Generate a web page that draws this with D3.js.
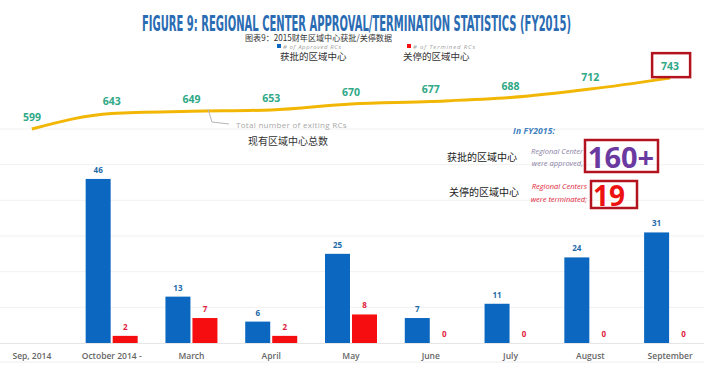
<!DOCTYPE html>
<html><head><meta charset="utf-8">
<script src="https://cdn.jsdelivr.net/npm/d3@7"></script>
<style>html,body{margin:0;padding:0;background:#fff;overflow:hidden}</style>
</head><body>
<svg id="c" width="704" height="375"></svg>
<script>
const categories = ["Sep, 2014","October 2014 -","March","April","May","June","July","August","September"];
const approved = [null,46,13,6,25,7,11,24,31];
const terminated = [null,2,7,2,8,0,0,0,0];
const totalRCs = [599,643,649,653,670,677,688,712,743];
const barTicks = [0,10,20,30,40,50,60];

const svg = d3.select("#c");
const W = 704, H = 375;
const cjk = "'Noto Sans CJK SC', sans-serif";
const sans = "'Open Sans','Noto Sans',sans-serif";

const x = d3.scaleBand().domain(categories).range([-8, 710]);
const inner = d3.scaleBand().domain(["a","t"]).range([-26, 26]).paddingInner(0.075);
const yBar = d3.scaleLinear().domain([0, 60]).range([343, 129]);
const yLine = d3.scaleLinear().domain([500, 800]).range([164, 58]);
const cx = c => x(c) + x.bandwidth()/2;

// gridlines
svg.append("g").selectAll("line").data(barTicks.slice(1)).join("line")
  .attr("x1", 0).attr("x2", W).attr("y1", d=>yBar(d)).attr("y2", d=>yBar(d))
  .attr("stroke", "#f1f1f1").attr("stroke-width", 1);

// axis
const ax = svg.append("g").attr("transform", `translate(0,${yBar(0)})`)
  .call(d3.axisBottom(x).tickSize(0).tickPadding(10));
ax.select(".domain").attr("stroke", "#e6e6e6");
ax.selectAll("text").attr("font-family", sans).attr("font-size", 8.5).attr("font-weight", 600).attr("fill", "#666");
svg.append("line").attr("x1",0).attr("x2",W).attr("y1",362).attr("y2",362).attr("stroke","#eeeeee");

// bars
const rows = categories.map((c,i)=>({c, a: approved[i], t: terminated[i]})).filter(d=>d.a!==null);
const bg = svg.append("g");
bg.selectAll("rect.a").data(rows).join("rect").attr("class","a")
  .attr("x", d=>cx(d.c)+inner("a")).attr("width", inner.bandwidth())
  .attr("y", d=>yBar(d.a)).attr("height", d=>yBar(0)-yBar(d.a)).attr("fill", "#0b67bf");
bg.selectAll("rect.t").data(rows.filter(d=>d.t>0)).join("rect").attr("class","t")
  .attr("x", d=>cx(d.c)+inner("t")).attr("width", inner.bandwidth())
  .attr("y", d=>yBar(d.t)).attr("height", d=>yBar(0)-yBar(d.t)).attr("fill", "#f50d10");
bg.selectAll("text.a").data(rows).join("text").attr("class","a")
  .attr("x", d=>cx(d.c)+inner("a")+inner.bandwidth()/2).attr("y", d=>yBar(d.a)-6)
  .attr("text-anchor","middle").attr("font-family",sans).attr("font-size",8).attr("font-weight",700)
  .attr("fill","#1e6aa8").text(d=>d.a);
bg.selectAll("text.t").data(rows).join("text").attr("class","t")
  .attr("x", d=>cx(d.c)+inner("t")+inner.bandwidth()/2).attr("y", d=>yBar(d.t)-6)
  .attr("text-anchor","middle").attr("font-family",sans).attr("font-size",8).attr("font-weight",700)
  .attr("fill","#e0203a").text(d=>d.t);

// line
const lineData = categories.map((c,i)=>({c, v: totalRCs[i]}));
svg.append("path").datum(lineData)
  .attr("d", d3.line().x(d=>cx(d.c)).y(d=>yLine(d.v)).curve(d3.curveMonotoneX))
  .attr("fill","none").attr("stroke","#f2b705").attr("stroke-width",3);
svg.append("g").selectAll("text").data(lineData).join("text")
  .attr("x", d=>cx(d.c)).attr("y", d=>yLine(d.v)-8).attr("text-anchor","middle")
  .attr("font-family",sans).attr("font-size",10.5).attr("font-weight",700).attr("fill","#2fa886")
  .text(d=>d.v);
// 743 box
const last = lineData[lineData.length-1];
svg.append("rect").attr("x", cx(last.c)-18).attr("y", yLine(last.v)-25).attr("width",38).attr("height",24)
  .attr("fill","none").attr("stroke","#b3121f").attr("stroke-width",2.5);

// callout
svg.append("path").attr("d","M208,109 L212,122 L229,124").attr("fill","none").attr("stroke","#b5b5b5").attr("stroke-width",1);
svg.append("text").attr("x",236).attr("y",128).attr("font-family",sans).attr("font-size",8).attr("fill","#a8a8a8").attr("letter-spacing",0.3).text("Total number of exiting RCs");
svg.append("text").attr("x",248).attr("y",145).attr("font-family",cjk).attr("font-size",10).attr("fill","#333").text("现有区域中心总数");

// title
svg.append("text").attr("x",142).attr("y",30.5)
  .attr("font-family","'Liberation Sans Narrow','DejaVu Sans Condensed',sans-serif").attr("font-weight",700)
  .attr("font-size",22).attr("fill","#2a6cb3").attr("textLength",429).attr("lengthAdjust","spacingAndGlyphs")
  .text("FIGURE 9: REGIONAL CENTER APPROVAL/TERMINATION STATISTICS (FY2015)");
svg.append("text").attr("x",245).attr("y",41).attr("font-family",cjk)
  .attr("font-size",8.5).attr("fill","#333").attr("textLength",147).attr("lengthAdjust","spacingAndGlyphs")
  .text("图表9：2015财年区域中心获批/关停数据");

// legend
const lg = svg.append("g");
lg.append("rect").attr("x",277).attr("y",44).attr("width",4).attr("height",4).attr("fill","#0b67bf");
lg.append("text").attr("x",283).attr("y",48.5).attr("font-family",sans).attr("font-size",6).attr("font-style","italic").attr("fill","#a0a0a0").attr("textLength",58).text("# of Approved RCs");
lg.append("rect").attr("x",407).attr("y",44).attr("width",4).attr("height",4).attr("fill","#f50d10");
lg.append("text").attr("x",413).attr("y",48.5).attr("font-family",sans).attr("font-size",6).attr("font-style","italic").attr("fill","#a0a0a0").attr("textLength",62).text("# of Termined RCs");
lg.append("text").attr("x",280).attr("y",59.5).attr("font-family",cjk).attr("font-size",9.5).attr("fill","#333").text("获批的区域中心");
lg.append("text").attr("x",403).attr("y",59.5).attr("font-family",cjk).attr("font-size",9.5).attr("fill","#333").text("关停的区域中心");

// FY2015 summary
const s = svg.append("g");
s.append("text").attr("x",513).attr("y",134).attr("font-family",sans).attr("font-size",8.5).attr("font-weight",700).attr("font-style","italic").attr("fill","#3d7fbf").attr("textLength",42).text("In FY2015:");
s.append("text").attr("x",447).attr("y",161).attr("font-family",cjk).attr("font-size",10).attr("fill","#222").text("获批的区域中心");
s.append("text").attr("x",583).attr("y",154).attr("text-anchor","end").attr("font-family",sans).attr("font-size",7.5).attr("font-style","italic").attr("fill","#8a7fa6").text("Regional Center");
s.append("text").attr("x",583).attr("y",166).attr("text-anchor","end").attr("font-family",sans).attr("font-size",7.5).attr("font-style","italic").attr("fill","#8a7fa6").text("were approved,");
s.append("rect").attr("x",585).attr("y",140).attr("width",73).attr("height",32).attr("fill","none").attr("stroke","#b3121f").attr("stroke-width",2.5);
s.append("text").attr("x",621).attr("y",168).attr("text-anchor","middle").attr("font-family",sans).attr("font-size",29).attr("font-weight",700).attr("fill","#6b3aa0").text("160+");
s.append("text").attr("x",449).attr("y",196).attr("font-family",cjk).attr("font-size",10).attr("fill","#222").text("关停的区域中心");
s.append("text").attr("x",587).attr("y",189).attr("text-anchor","end").attr("font-family",sans).attr("font-size",7.5).attr("font-style","italic").attr("fill","#e0283c").text("Regional Centers");
s.append("text").attr("x",587).attr("y",202).attr("text-anchor","end").attr("font-family",sans).attr("font-size",7.5).attr("font-style","italic").attr("fill","#e0283c").text("were terminated;");
s.append("rect").attr("x",591).attr("y",181).attr("width",46).attr("height",27).attr("fill","none").attr("stroke","#b3121f").attr("stroke-width",2.5);
s.append("text").attr("x",593).attr("y",206).attr("font-family",sans).attr("font-size",28).attr("font-weight",700).attr("fill","#ee1111").text("19");
</script>
</body></html>
